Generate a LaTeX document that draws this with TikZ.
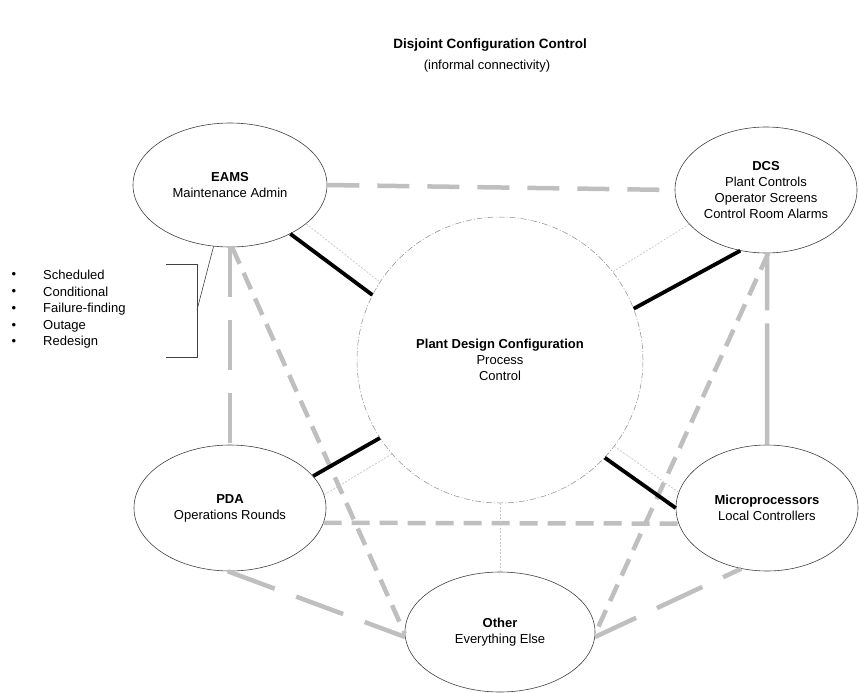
\documentclass[tikz,border=0pt]{standalone}
\usepackage{fontspec}
\setmainfont{Liberation Sans}
\usetikzlibrary{shapes.geometric}
\begin{document}
\begin{tikzpicture}[x=1pt,y=-1pt,
  every node/.style={font=\fontsize{13}{15.8}\selectfont},
  ell/.style={draw=black!75, line width=0.6pt, ellipse, inner sep=0pt, align=center},
  hub/.style={draw=black!45, line width=0.5pt, circle, dash pattern=on 6pt off 2pt on 1pt off 2pt, inner sep=0pt, minimum size=286pt, align=center},
  solidlink/.style={line width=3.8pt, black},
  faint/.style={draw=black!22, line width=0.7pt, dash pattern=on 2pt off 1.5pt},
  grey/.style={draw=black!25, line width=4.5pt},
  longdash/.style={grey, dash pattern=on 32pt off 18pt},
  vlongdash/.style={grey, dash pattern=on 50pt off 23pt},
  meddash/.style={grey, dash pattern=on 18pt off 10pt},
  plain/.style={draw=black!75, line width=0.6pt},
  txt/.style={anchor=west, inner sep=0pt}
]
\useasboundingbox (0,0) rectangle (859,693);

% title
\node[font=\fontsize{13.5}{16}\selectfont\bfseries] (title) at (490,45) {Disjoint Configuration Control};
\node (sub) at (487,66) {(informal connectivity)};

% nodes
\node[ell, minimum width=194pt, minimum height=124pt] (eams) at (230,185) {\textbf{EAMS}\\Maintenance Admin};
\node[ell, minimum width=182pt, minimum height=126pt] (dcs) at (766,190) {\textbf{DCS}\\Plant Controls\\Operator Screens\\Control Room Alarms};
\node[ell, minimum width=192pt, minimum height=126pt] (pda) at (230,508) {\textbf{PDA}\\Operations Rounds};
\node[ell, minimum width=182pt, minimum height=126pt] (micro) at (767,508) {\textbf{Microprocessors}\\Local Controllers};
\node[ell, minimum width=190pt, minimum height=120pt] (other) at (500,632) {\textbf{Other}\\Everything Else};
\node[hub] (hub) at (500,360) {\textbf{Plant Design Configuration}\\Process\\Control};

% grey dashed links
\draw[longdash] (eams.east) -- (dcs.west);
\draw[vlongdash] (eams.south) -- (pda.north);
\draw[grey, dash pattern=on 57pt off 13pt on 140pt off 13pt] (dcs.-89) -- (micro.north);
\draw[meddash] (eams.-88) -- (other.181);
\draw[meddash] (dcs.-88) -- (other.-1);
\draw[meddash] (pda.-9.6) -- (micro.190);
\draw[vlongdash] (pda.-92) -- (other.183);
\draw[vlongdash, dash phase=30pt] (micro.-113) -- (other.-3);

% faint dotted links
\draw[faint] (eams.-27.5) -- (hub.147);
\draw[faint] (dcs.204) -- (hub.38);
\draw[faint] (pda.8.5) -- (hub.221);
\draw[faint] (micro.170.7) -- (hub.-37.4);
\draw[faint] (hub.south) -- (other.north);

% solid black links
\draw[solidlink] (eams.-39.5) -- (hub.153);
\draw[solidlink] (dcs.-113) -- (hub.21.5);
\draw[solidlink] (pda.21.4) -- (hub.213.7);
\draw[solidlink] (micro.west) -- (hub.-43);

% bullet list and bracket
\node[txt] (l1) at (43,275) {Scheduled};
\node[txt] (l2) at (43,292) {Conditional};
\node[txt] (l3) at (43,309) {Failure-finding};
\node[txt] (l4) at (43,326) {Outage};
\node[txt] (l5) at (43,342) {Redesign};
\foreach \i/\y in {1/275,2/292,3/309,4/326,5/342} \node (d\i) at (14,\y) {\textbullet};
\coordinate (bt) at (166,264);
\coordinate (bb) at (166,357);
\coordinate (bm) at (197,310);
\draw[plain] (bt) -- (197,264) -- (197,357) -- (bb);
\draw[plain] (bm) -- (eams.-105);
\end{tikzpicture}
\end{document}
